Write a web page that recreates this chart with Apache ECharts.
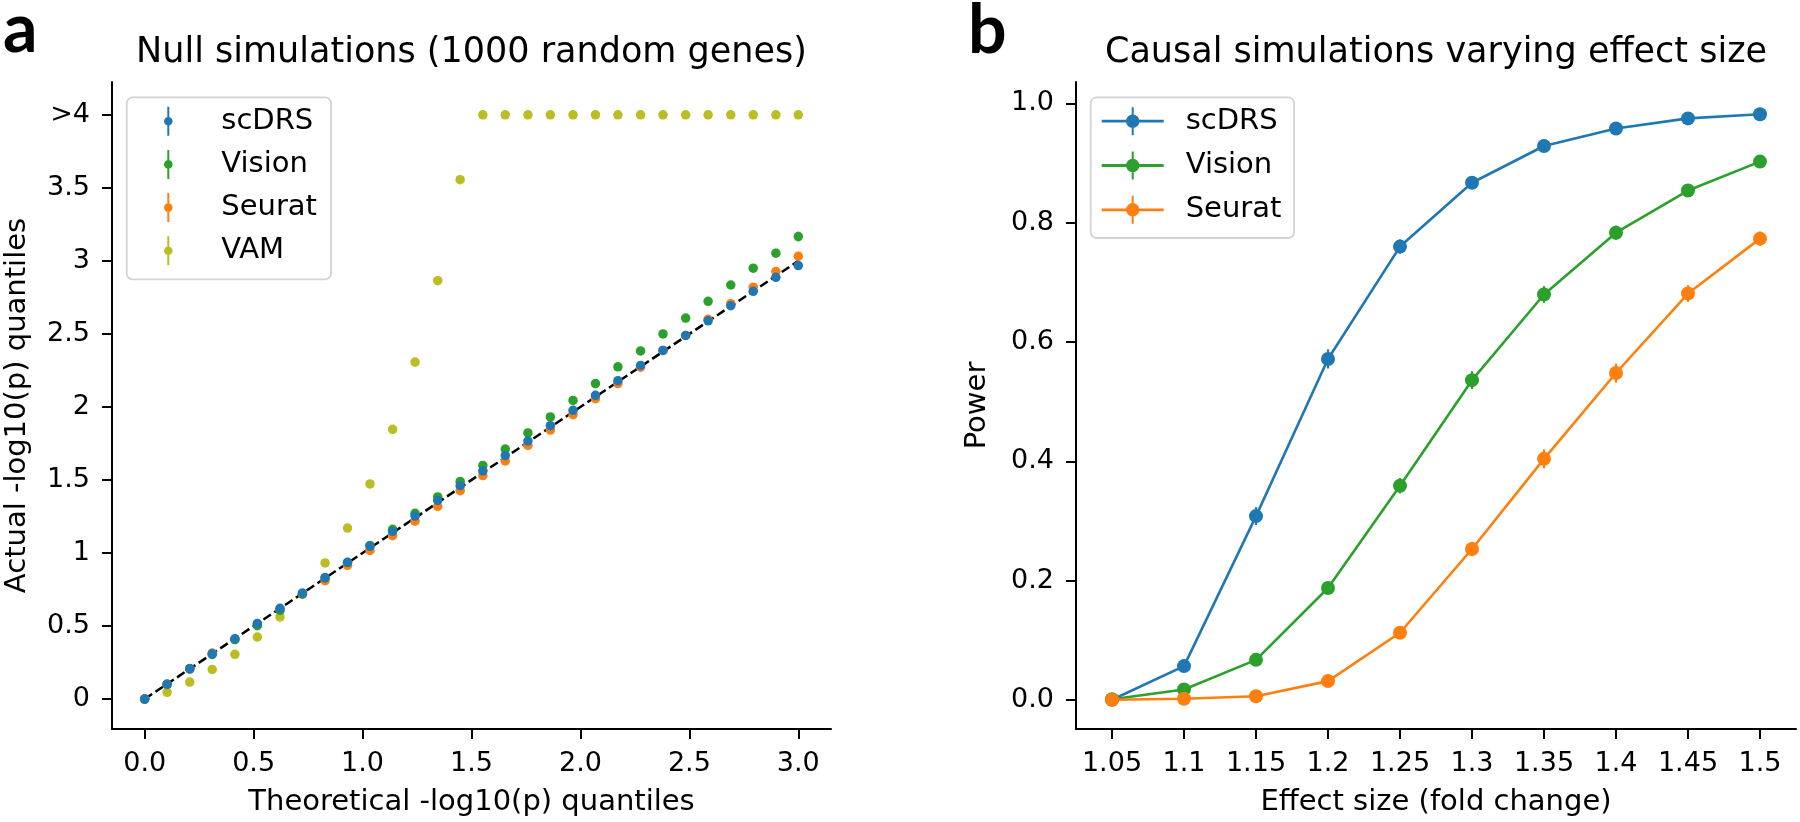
<!DOCTYPE html>
<html><head><meta charset="utf-8">
<script src="https://cdn.jsdelivr.net/npm/echarts@6/dist/echarts.min.js"></script>
<style>html,body{margin:0;padding:0;background:#fff}#c{width:1800px;height:822px}</style>
</head><body><div id="c"></div>
<script>
// ---------- Panel a: null simulations (QQ) ----------
const theoQ = [0, 0.103, 0.207, 0.31, 0.414, 0.517, 0.621, 0.724, 0.828, 0.931, 1.034, 1.138, 1.241, 1.345, 1.448,
  1.552, 1.655, 1.759, 1.862, 1.966, 2.069, 2.172, 2.276, 2.379, 2.483, 2.586, 2.69, 2.793, 2.897, 3.0];
const scdrsNull = [0.0, 0.103, 0.208, 0.31, 0.413, 0.518, 0.621, 0.726, 0.831, 0.936, 1.046, 1.148, 1.253, 1.36, 1.461,
  1.562, 1.667, 1.767, 1.872, 1.977, 2.08, 2.18, 2.284, 2.387, 2.49, 2.59, 2.693, 2.792, 2.888, 2.968];
const visionNull = [0.0, 0.1, 0.205, 0.305, 0.406, 0.502, 0.607, 0.72, 0.83, 0.935, 1.052, 1.162, 1.272, 1.384, 1.49,
  1.6, 1.712, 1.822, 1.932, 2.045, 2.16, 2.275, 2.384, 2.5, 2.609, 2.723, 2.835, 2.95, 3.053, 3.167];
const seuratNull = [0.0, 0.1, 0.21, 0.315, 0.41, 0.51, 0.612, 0.718, 0.81, 0.916, 1.018, 1.119, 1.219, 1.32, 1.427,
  1.53, 1.63, 1.737, 1.842, 1.947, 2.057, 2.16, 2.272, 2.387, 2.49, 2.6, 2.707, 2.82, 2.927, 3.032];
const vamNull = [0.0, 0.046, 0.116, 0.203, 0.306, 0.425, 0.562, 0.72, 0.932, 1.171, 1.473, 1.847, 2.307, 2.865, 3.556,
  4, 4, 4, 4, 4, 4, 4, 4, 4, 4, 4, 4, 4, 4, 4];
const scdrsNullErr = [0, 0.004, 0.005, 0.006, 0.006, 0.007, 0.008, 0.008, 0.009, 0.01, 0.01, 0.011, 0.012, 0.012, 0.013,
  0.014, 0.015, 0.015, 0.016, 0.017, 0.018, 0.018, 0.019, 0.02, 0.021, 0.022, 0.023, 0.024, 0.026, 0.028];
const visionNullErr = [0, 0.004, 0.005, 0.006, 0.006, 0.007, 0.008, 0.008, 0.009, 0.01, 0.011, 0.012, 0.012, 0.013, 0.014,
  0.015, 0.016, 0.017, 0.018, 0.019, 0.02, 0.021, 0.022, 0.023, 0.024, 0.025, 0.026, 0.028, 0.03, 0.033];
const seuratNullErr = [0, 0.004, 0.005, 0.006, 0.006, 0.007, 0.008, 0.008, 0.009, 0.01, 0.01, 0.011, 0.012, 0.012, 0.013,
  0.014, 0.015, 0.015, 0.016, 0.017, 0.018, 0.019, 0.02, 0.021, 0.022, 0.023, 0.024, 0.025, 0.027, 0.03];
const vamNullErr = [0, 0.004, 0.005, 0.006, 0.007, 0.008, 0.009, 0.01, 0.011, 0.012, 0.013, 0.014, 0.016, 0.02, 0.03,
  0, 0, 0, 0, 0, 0, 0, 0, 0, 0, 0, 0, 0, 0, 0];
const diagX = [0, 3];
const diagY = [0, 3];
const xTickValuesA = [0, 0.5, 1, 1.5, 2, 2.5, 3];
const xTickLabelsA = ['0.0', '0.5', '1.0', '1.5', '2.0', '2.5', '3.0'];
const yTickValuesA = [0, 0.5, 1, 1.5, 2, 2.5, 3, 3.5, 4];
const yTickLabelsA = ['0', '0.5', '1', '1.5', '2', '2.5', '3', '3.5', '>4'];

// ---------- Panel b: causal simulations ----------
const effectSizes = ['1.05', '1.1', '1.15', '1.2', '1.25', '1.3', '1.35', '1.4', '1.45', '1.5'];
const scdrsPower = [0.0, 0.0565, 0.308, 0.5716, 0.760, 0.867, 0.9287, 0.958, 0.975, 0.982];
const visionPower = [0.001, 0.0173, 0.067, 0.1874, 0.359, 0.536, 0.6797, 0.7833, 0.854, 0.9025];
const seuratPower = [0.0, 0.0017, 0.006, 0.0313, 0.1124, 0.2529, 0.404, 0.548, 0.6813, 0.7733];
const scdrsPowerErr = [0.001, 0.005, 0.015, 0.016, 0.012, 0.009, 0.007, 0.005, 0.004, 0.003];
const visionPowerErr = [0.001, 0.003, 0.006, 0.01, 0.013, 0.015, 0.014, 0.012, 0.009, 0.007];
const seuratPowerErr = [0.001, 0.001, 0.002, 0.004, 0.008, 0.012, 0.016, 0.016, 0.014, 0.012];
const yTickValuesB = [0, 0.2, 0.4, 0.6, 0.8, 1.0];
const yTickLabelsB = ['0.0', '0.2', '0.4', '0.6', '0.8', '1.0'];

const C = { scDRS: '#1f77b4', Vision: '#2ca02c', Seurat: '#ff7f0e', VAM: '#bcbd22' };
const FONT = 'DejaVu Sans';

function lookup(vals, labels, v) {
  for (let i = 0; i < vals.length; i++) if (Math.abs(vals[i] - v) < 1e-9) return labels[i];
  return '';
}

function errSeries(name, xs, ys, es, color, ax, z, lw) {
  return {
    type: 'custom', name: name, xAxisIndex: ax, yAxisIndex: ax, z: z,
    itemStyle: { color: color }, silent: true,
    encode: { x: 0, y: 1 },
    data: ys.map((y, i) => [xs[i], y, es[i]]),
    renderItem: function (params, api) {
      const x = api.value(0), y = api.value(1), e = api.value(2);
      if (!e) return null;
      const p1 = api.coord([x, y - e]);
      const p2 = api.coord([x, y + e]);
      return { type: 'line', shape: { x1: p1[0], y1: p1[1], x2: p2[0], y2: p2[1] },
        style: { stroke: color, lineWidth: lw } };
    }
  };
}

function scatterA(name, ys, z) {
  return { type: 'scatter', name: name, xAxisIndex: 0, yAxisIndex: 0, z: z,
    symbol: 'circle', symbolSize: 9.5, itemStyle: { color: C[name], opacity: 1 },
    data: ys.map((y, i) => [theoQ[i], y]) };
}
function lineB(name, ys, z) {
  return { type: 'line', name: name, xAxisIndex: 1, yAxisIndex: 1, z: z,
    symbol: 'circle', symbolSize: 14, showSymbol: true,
    itemStyle: { color: C[name], borderWidth: 0 },
    lineStyle: { color: C[name], width: 2.6 },
    data: ys };
}

const iconA = 'path://M0,0L0,0.01M4,0H6V10.2H4ZM4,18.8H6V29H4ZM0.7,14.5A4.3,4.3 0 1 1 9.3,14.5A4.3,4.3 0 1 1 0.7,14.5ZM53,29L53,28.99';
const iconB = 'path://M0,0L0,0.01M0,12.6H62V15.4H0ZM30,0H32V28H30ZM24.3,14A6.7,6.7 0 1 1 37.7,14A6.7,6.7 0 1 1 24.3,14ZM79,28L79,27.99';

const axisCommon = {
  axisLine: { show: true, onZero: false, lineStyle: { color: '#000', width: 2 } },
  axisTick: { show: true, inside: false, length: 10, lineStyle: { color: '#000', width: 2 } },
  splitLine: { show: false },
  nameTextStyle: { fontFamily: FONT, fontSize: 29, color: '#000' }
};
const labelStyle = { fontFamily: FONT, fontSize: 27, color: '#000' };

const option = {
  animation: false,
  backgroundColor: '#fff',
  title: [
    { text: 'a', left: 3, top: -4.4, padding: 0, textStyle: { fontFamily: 'Lato', fontWeight: 'bold', fontSize: 68, color: '#000' } },
    { text: 'b', left: 968, top: -3.4, padding: 0, textStyle: { fontFamily: 'Lato', fontWeight: 'bold', fontSize: 68, color: '#000' } },
    { text: 'Null simulations (1000 random genes)', left: 471.5, textAlign: 'center', top: 35, padding: 0,
      textStyle: { fontFamily: FONT, fontWeight: 'normal', fontSize: 35, color: '#000' } },
    { text: 'Causal simulations varying effect size', left: 1436, textAlign: 'center', top: 35, padding: 0,
      textStyle: { fontFamily: FONT, fontWeight: 'normal', fontSize: 35, color: '#000' } }
  ],
  grid: [
    { left: 112, right: 969, top: 82, bottom: 93, containLabel: false },
    { left: 1076, right: 4, top: 82, bottom: 93, containLabel: false }
  ],
  legend: [
    { orient: 'vertical', left: 126.7, top: 97.3, padding: [9.4, 14, 14, 36.6],
      itemWidth: 53, itemHeight: 29, itemGap: 14.2, align: 'left', selectedMode: false,
      backgroundColor: 'rgba(255,255,255,0.8)', borderColor: '#d4d4d4', borderWidth: 1.8, borderRadius: 6,
      itemStyle: { borderWidth: 0 },
      textStyle: { fontFamily: FONT, fontSize: 29, color: '#000', lineHeight: 29 },
      data: ['scDRS', 'Vision', 'Seurat', 'VAM'].map(n => ({ name: n, icon: iconA, itemStyle: { color: C[n] } })) },
    { orient: 'vertical', left: 1090.7, top: 97.3, padding: [9.4, 12.7, 13.7, 11],
      itemWidth: 79, itemHeight: 28, itemGap: 15.3, align: 'left', selectedMode: false,
      backgroundColor: 'rgba(255,255,255,0.8)', borderColor: '#d4d4d4', borderWidth: 1.8, borderRadius: 6,
      itemStyle: { borderWidth: 0 },
      textStyle: { fontFamily: FONT, fontSize: 29, color: '#000', lineHeight: 28 },
      data: ['scDRS', 'Vision', 'Seurat'].map(n => ({ name: n, icon: iconB, itemStyle: { color: C[n] } })) }
  ],
  xAxis: [
    Object.assign({}, axisCommon, {
      type: 'value', gridIndex: 0, min: -0.15, max: 3.15,
      name: 'Theoretical -log10(p) quantiles', nameLocation: 'middle', nameGap: 59,
      axisTick: Object.assign({}, axisCommon.axisTick, { customValues: xTickValuesA }),
      axisLabel: Object.assign({}, labelStyle, { margin: 21, customValues: xTickValuesA,
        formatter: v => lookup(xTickValuesA, xTickLabelsA, v) })
    }),
    Object.assign({}, axisCommon, {
      type: 'category', gridIndex: 1, data: effectSizes, boundaryGap: true,
      name: 'Effect size (fold change)', nameLocation: 'middle', nameGap: 59,
      axisTick: Object.assign({}, axisCommon.axisTick, { alignWithLabel: true, interval: 0 }),
      axisLabel: Object.assign({}, labelStyle, { margin: 21, interval: 0 })
    })
  ],
  yAxis: [
    Object.assign({}, axisCommon, {
      type: 'value', gridIndex: 0, min: -0.205, max: 4.225,
      name: 'Actual -log10(p) quantiles', nameLocation: 'middle', nameGap: 80,
      axisTick: Object.assign({}, axisCommon.axisTick, { customValues: yTickValuesA }),
      axisLabel: Object.assign({}, labelStyle, { margin: 22, customValues: yTickValuesA,
        formatter: v => lookup(yTickValuesA, yTickLabelsA, v) })
    }),
    Object.assign({}, axisCommon, {
      type: 'value', gridIndex: 1, min: -0.049, max: 1.036,
      name: 'Power', nameLocation: 'middle', nameGap: 84,
      axisTick: Object.assign({}, axisCommon.axisTick, { customValues: yTickValuesB }),
      axisLabel: Object.assign({}, labelStyle, { margin: 22, customValues: yTickValuesB,
        formatter: v => lookup(yTickValuesB, yTickLabelsB, v) })
    })
  ],
  series: [
    { type: 'line', name: 'diag', xAxisIndex: 0, yAxisIndex: 0, z: 1, symbol: 'none', silent: true,
      lineStyle: { color: '#000', width: 2.5, type: [9, 4] },
      data: diagX.map((x, i) => [x, diagY[i]]) },
    scatterA('VAM', vamNull, 2),
    scatterA('Seurat', seuratNull, 3),
    scatterA('Vision', visionNull, 4),
    scatterA('scDRS', scdrsNull, 5),
    errSeries('VAM', theoQ, vamNull, vamNullErr, C.VAM, 0, 2, 2),
    errSeries('Seurat', theoQ, seuratNull, seuratNullErr, C.Seurat, 0, 3, 2),
    errSeries('Vision', theoQ, visionNull, visionNullErr, C.Vision, 0, 4, 2),
    errSeries('scDRS', theoQ, scdrsNull, scdrsNullErr, C.scDRS, 0, 5, 2),
    lineB('scDRS', scdrsPower, 6),
    lineB('Vision', visionPower, 7),
    lineB('Seurat', seuratPower, 8),
    errSeries('scDRS', effectSizes.map((s, i) => i), scdrsPower, scdrsPowerErr, C.scDRS, 1, 6, 2.2),
    errSeries('Vision', effectSizes.map((s, i) => i), visionPower, visionPowerErr, C.Vision, 1, 7, 2.2),
    errSeries('Seurat', effectSizes.map((s, i) => i), seuratPower, seuratPowerErr, C.Seurat, 1, 8, 2.2)
  ]
};

const chart = echarts.init(document.getElementById('c'), null, { renderer: 'canvas' });
chart.setOption(option);
</script>
</body></html>
